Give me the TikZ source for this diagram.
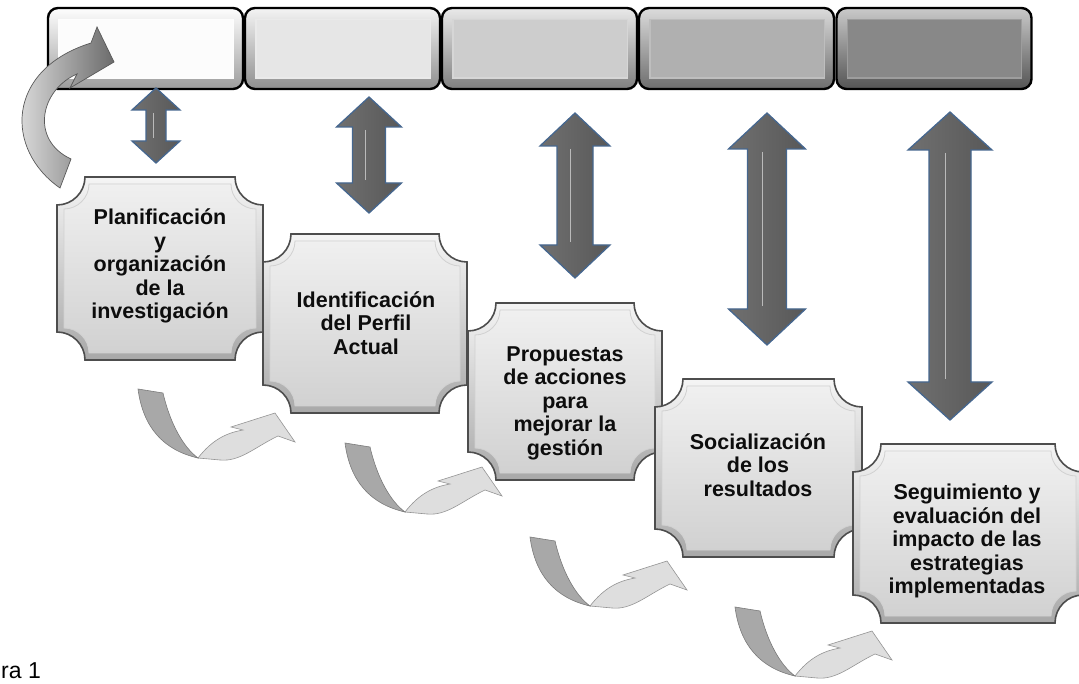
\documentclass[tikz,border=0pt]{standalone}
\usepackage{fontspec}
\setmainfont{Liberation Sans}
\definecolor{tc1}{HTML}{FCFCFC}
\definecolor{tc2}{HTML}{E6E6E6}
\definecolor{tc3}{HTML}{CDCDCD}
\definecolor{tc4}{HTML}{B0B0B0}
\definecolor{tc5}{HTML}{888888}
\definecolor{arrblue}{HTML}{46678F}
\definecolor{ag1}{HTML}{707070}
\definecolor{ag2}{HTML}{AAAAAA}
\definecolor{ag3}{HTML}{585858}
\definecolor{plqedge}{HTML}{4D4D4D}
\newcommand\plaque[6]{%
  \path[#6] ({#1+#5},{-(#2)}) -- ({#3-#5},{-(#2)})
   .. controls ({#3-#5},{-(#2)-0.55*#5}) and ({#3-0.55*#5},{-(#2)-#5}) .. ({#3},{-(#2)-#5})
   -- ({#3},{-(#4)+#5})
   .. controls ({#3-0.55*#5},{-(#4)+#5}) and ({#3-#5},{-(#4)+0.55*#5}) .. ({#3-#5},{-(#4)})
   -- ({#1+#5},{-(#4)})
   .. controls ({#1+#5},{-(#4)+0.55*#5}) and ({#1+0.55*#5},{-(#4)+#5}) .. ({#1},{-(#4)+#5})
   -- ({#1},{-(#2)-#5})
   .. controls ({#1+0.55*#5},{-(#2)-#5}) and ({#1+#5},{-(#2)-0.55*#5}) .. cycle;}
% double arrow: cx, ytop, ybot, head width, shaft width, head length
\newcommand\dblarrow[6]{%
  \path[dblarr] ({#1},{-(#2)}) -- ({#1+#4/2},{-(#2)-#6}) -- ({#1+#5/2},{-(#2)-#6})
   -- ({#1+#5/2},{-(#3)+#6}) -- ({#1+#4/2},{-(#3)+#6}) -- ({#1},{-(#3)})
   -- ({#1-#4/2},{-(#3)+#6}) -- ({#1-#5/2},{-(#3)+#6}) -- ({#1-#5/2},{-(#2)-#6})
   -- ({#1-#4/2},{-(#2)-#6}) -- cycle;
  \draw[white!75!gray, line width=0.8pt, opacity=0.7] ({#1-#5*0.12},{-(#2)-#6-3}) -- ({#1-#5*0.12},{-(#3)+#6+3});}
\begin{document}
\begin{tikzpicture}[x=1pt,y=1pt,
  topbox/.style={draw=black, line width=2.4pt, rounded corners=10pt,
    minimum width=195pt, minimum height=81pt, inner sep=0pt},
  lbl/.style={font=\bfseries\fontsize{21.5}{23.5}\selectfont, align=center, text=black!95, inner sep=0pt},
  dblarr/.style={draw=arrblue, line width=1.3pt, left color=ag1, middle color=ag2, right color=ag3},
  plqout/.style={draw=plqedge, line width=1.6pt, top color=white!96!black, bottom color=white!66!black},
  plqin/.style={draw=white!82!black, line width=0.8pt, top color=white!94!black, bottom color=white!82!black},
  tailfill/.style={fill=white!66!black, draw=white!48!black, line width=0.6pt},
  headfill/.style={fill=white!87!black, draw=white!58!black, line width=0.6pt},
  bigarr/.style={left color=white!92!black, right color=white!42!black, draw=white!35!black, line width=0.7pt},
  curv/.pic={
    \path[tailfill] (0,0) .. controls (5,-38) and (25,-61) .. (60,-69)
       .. controls (45,-58) and (32,-34) .. (25,-4) -- cycle;
    \path[headfill] (60,-69) .. controls (74,-51) and (88,-44) .. (105,-41)
       -- (93,-38) -- (137,-24) -- (157,-53) -- (140,-47)
       .. controls (117,-58) and (102,-73) .. (82,-71) -- cycle;
  }]
\useasboundingbox (0,0) rectangle (1079,-684);

% top bar
\foreach \i/\c/\x in {1/tc1/145.5, 2/tc2/342.5, 3/tc3/539.5, 4/tc4/736.5, 5/tc5/934}{
  \node[topbox, top color=\c!45!white, middle color=\c, bottom color=\c!62!black] (t\i) at (\x,-48.5) {};
  \draw[draw=\c!82!white, line width=1.4pt, fill=\c]
    ([shift={(12pt,-13pt)}]t\i.north west) rectangle ([shift={(-11pt,12pt)}]t\i.south east);
}

% big curved arrow (top left)
\path[bigarr] (60,-188) .. controls (5,-150) and (5,-70) .. (91,-43)
   -- (97,-27) -- (114,-62) -- (70,-88) -- (77,-74)
   .. controls (40,-90) and (30,-140) .. (71,-159) -- cycle;

% double arrows
\dblarrow{156}{88}{163}{48}{20}{22}
\dblarrow{369}{97}{213}{65}{33}{30}
\dblarrow{575}{113}{278}{70}{36}{33}
\dblarrow{767}{113}{345}{77}{39}{36}
\dblarrow{950}{112}{420}{84}{42}{38}

% small curved arrows
\pic at (138,-389) {curv};
\pic at (345,-443) {curv};
\pic at (530,-537) {curv};
\pic at (735,-607) {curv};

% plaque boxes
\plaque{57}{177}{263}{360}{28}{plqout}
\plaque{64}{184}{256}{353}{25}{plqin}
\node[lbl] (b1) at (160,-266) {Planificación\\y\\organización\\de la\\investigación};

\plaque{263}{234}{467}{413}{28}{plqout}
\plaque{270}{241}{460}{406}{25}{plqin}
\node[lbl] (b2) at (366,-323) {Identificación\\del Perfil\\Actual};

\plaque{468}{303}{662}{480}{28}{plqout}
\plaque{475}{310}{655}{473}{25}{plqin}
\node[lbl] (b3) at (565,-403) {Propuestas\\de acciones\\para\\mejorar la\\gestión};

\plaque{655}{379}{862}{557}{28}{plqout}
\plaque{662}{386}{855}{550}{25}{plqin}
\node[lbl] (b4) at (758,-465) {Socialización\\de los\\resultados};

\plaque{853}{444}{1083}{623}{28}{plqout}
\plaque{860}{451}{1076}{616}{25}{plqin}
\node[lbl] (b5) at (967,-541) {Seguimiento y\\evaluación del\\impacto de las\\estrategias\\implementadas};

% caption fragment
\node[font=\fontsize{23}{23}\selectfont, anchor=base west, inner sep=0pt] (cap) at (1,-678) {ra 1};
\end{tikzpicture}
\end{document}
